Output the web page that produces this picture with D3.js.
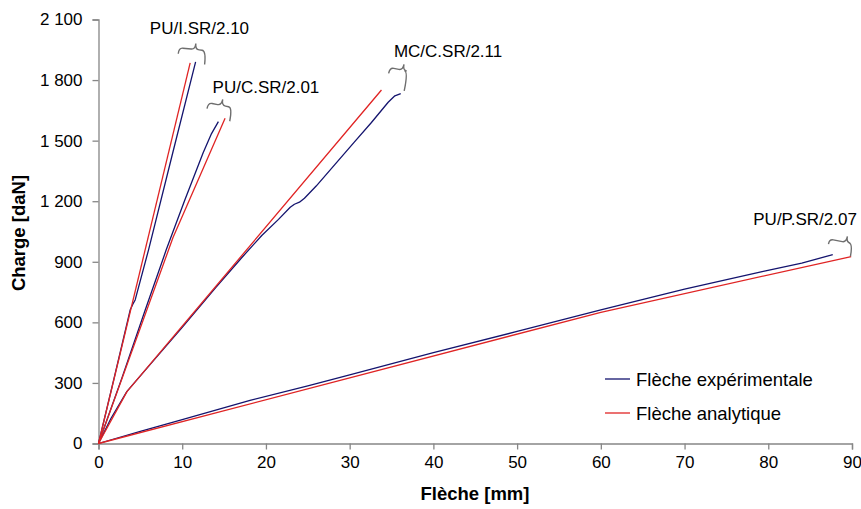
<!DOCTYPE html>
<html>
<head>
<meta charset="utf-8">
<script src="https://cdn.jsdelivr.net/npm/d3@7"></script>
<style>
  html, body { margin: 0; padding: 0; background: #fff; }
  svg { display: block; }
  text { font-family: Arial, "Liberation Sans", sans-serif; fill: #000; }
</style>
</head>
<body>
<svg id="chart" width="861" height="509"></svg>
<script>
// ---------------- data ----------------
const xTicks = [0, 10, 20, 30, 40, 50, 60, 70, 80, 90];
const yTicks = [0, 300, 600, 900, 1200, 1500, 1800, 2100];
const yTickLabels = ["0", "300", "600", "900", "1 200", "1 500", "1 800", "2 100"];

const seriesNames = ["PU/I.SR/2.10", "PU/C.SR/2.01", "MC/C.SR/2.11", "PU/P.SR/2.07"];

// experimental deflection [mm, daN]
const expPUI = [[0,0],[1.9,330],[3.78,661],[4.1,690],[4.38,711],[5.97,958],[8.9,1445],[11.6,1890]];
const expPUC = [[0,0],[2.8,325],[5.57,660],[8.08,958],[10.3,1205],[12.5,1440],[13.5,1535],[14.32,1594]];
const expMCC = [[0,0],[1.5,125],[3.4,258],[6,383],[10,575],[14,772],[17.1,920],[19.5,1030],[21.5,1110],[22.9,1170],[23.4,1185],[24.0,1195],[24.6,1215],[26.0,1275],[28.3,1385],[30.5,1490],[32.6,1590],[34.6,1690],[35.4,1722],[36.1,1733]];
const expPUP = [[0,0],[5,60],[10,118],[18.1,214],[25,285],[30,340],[40,450],[50,555],[60,662],[70,765],[79.4,853],[84,893],[87.7,935]];

// analytical deflection [mm, daN]
const anaPUI = [[0,0],[10.95,1885]];
const anaPUC = [[0,0],[8.9,1020],[15.12,1611]];
const anaMCC = [[0,0],[3.4,257],[33.8,1751]];
const anaPUP = [[0,0],[60,650],[89.9,926]];

const legendLabels = ["Flèche expérimentale", "Flèche analytique"];
const xTitle = "Flèche [mm]";
const yTitle = "Charge [daN]";

// annotation anchors (data units): label baseline centre, brace bar ends
const labelAnchors = [[12.06, 2030], [20.0, 1738], [41.75, 1912], [84.4, 1081]];
const braceBars = [
  [[9.6, 1960], [12.85, 1946]],
  [[13.1, 1688], [16.0, 1664]],
  [[34.8, 1862], [37.0, 1843]],
  [[87.3, 1012], [90.1, 990]]
];
const braceShape = [ // tip fraction, tip height, left leg, right leg (px)
  [0.6, 6, 6, 14],
  [0.55, 6, 6, 14],
  [0.7, 6, 6, 20],
  [0.72, 6, 5, 13]
];

// ---------------- layout ----------------
const svg = d3.select("#chart");
const x = d3.scaleLinear().domain([0, 90]).range([98.5, 852]);
const y = d3.scaleLinear().domain([0, 2100]).range([443.5, 19.5]);

const axisColor = "#868686";
const blue = "#14146e";
const red = "#e02424";

// axes
const xAxis = d3.axisBottom(x).tickValues(xTicks).tickSize(6).tickPadding(6).tickFormat(d3.format("d"));
const yAxis = d3.axisLeft(y).tickValues(yTicks).tickSize(6).tickPadding(10)
  .tickFormat((d, i) => yTickLabels[i]);

const gx = svg.append("g").attr("transform", `translate(0,${y(0)})`).call(xAxis);
const gy = svg.append("g").attr("transform", `translate(${x(0)},0)`).call(yAxis);
[gx, gy].forEach(g => {
  g.select(".domain").attr("stroke", axisColor).attr("stroke-width", 1.3);
  g.selectAll(".tick line").attr("stroke", axisColor).attr("stroke-width", 1.3);
  g.selectAll(".tick text").attr("font-size", 17).attr("fill", "#000")
    .style("font-family", 'Arial, "Liberation Sans", sans-serif');
});

// titles
svg.append("text").attr("x", 475).attr("y", 500).attr("text-anchor", "middle")
  .attr("font-size", 18.5).attr("font-weight", "bold").text(xTitle);
svg.append("text").attr("transform", `translate(25,233) rotate(-90)`).attr("text-anchor", "middle")
  .attr("font-size", 18.5).attr("font-weight", "bold").text(yTitle);

// lines
const line = d3.line().x(d => x(d[0])).y(d => y(d[1]));
const expSeries = [expPUI, expPUC, expMCC, expPUP];
const anaSeries = [anaPUI, anaPUC, anaMCC, anaPUP];

svg.append("g").selectAll("path").data(expSeries).join("path")
  .attr("d", line).attr("fill", "none").attr("stroke", blue).attr("stroke-width", 1.3)
  .attr("stroke-linejoin", "round");
svg.append("g").selectAll("path").data(anaSeries).join("path")
  .attr("d", line).attr("fill", "none").attr("stroke", red).attr("stroke-width", 1.3)
  .attr("stroke-linejoin", "round");

// labels
svg.append("g").selectAll("text").data(seriesNames).join("text")
  .attr("x", (d, i) => x(labelAnchors[i][0]))
  .attr("y", (d, i) => y(labelAnchors[i][1]))
  .attr("text-anchor", "middle").attr("font-size", 17).text(d => d);

// braces
function bracePath(w, f, tip, l1, l2) {
  const r = 4, t = f * w;
  return `M0,${l1} Q0,0 ${r},0 L${t - r},0 Q${t},0 ${t},${-tip} Q${t},0 ${t + r},0 L${w - r},0 Q${w},0 ${w},${l2}`;
}
svg.append("g").selectAll("path").data(braceBars).join("path")
  .attr("d", (d, i) => {
    const x1 = x(d[0][0]), y1 = y(d[0][1]), x2 = x(d[1][0]), y2 = y(d[1][1]);
    const w = Math.hypot(x2 - x1, y2 - y1);
    const s = braceShape[i];
    return bracePath(w, s[0], s[1], s[2], s[3]);
  })
  .attr("transform", d => {
    const x1 = x(d[0][0]), y1 = y(d[0][1]), x2 = x(d[1][0]), y2 = y(d[1][1]);
    const a = Math.atan2(y2 - y1, x2 - x1) * 180 / Math.PI;
    return `translate(${x1},${y1}) rotate(${a})`;
  })
  .attr("fill", "none").attr("stroke", "#6e6e6e").attr("stroke-width", 1.4);

// legend
const legend = svg.append("g").attr("transform", "translate(605,379)");
const legendColors = [blue, red];
legendLabels.forEach((lab, i) => {
  const g = legend.append("g").attr("transform", `translate(0,${i * 34})`);
  g.append("line").attr("x1", 0).attr("x2", 25).attr("y1", 0).attr("y2", 0)
    .attr("stroke", legendColors[i]).attr("stroke-width", 1.3);
  g.append("text").attr("x", 31).attr("y", 6.5).attr("font-size", 18.5).text(lab);
});
</script>
</body>
</html>
